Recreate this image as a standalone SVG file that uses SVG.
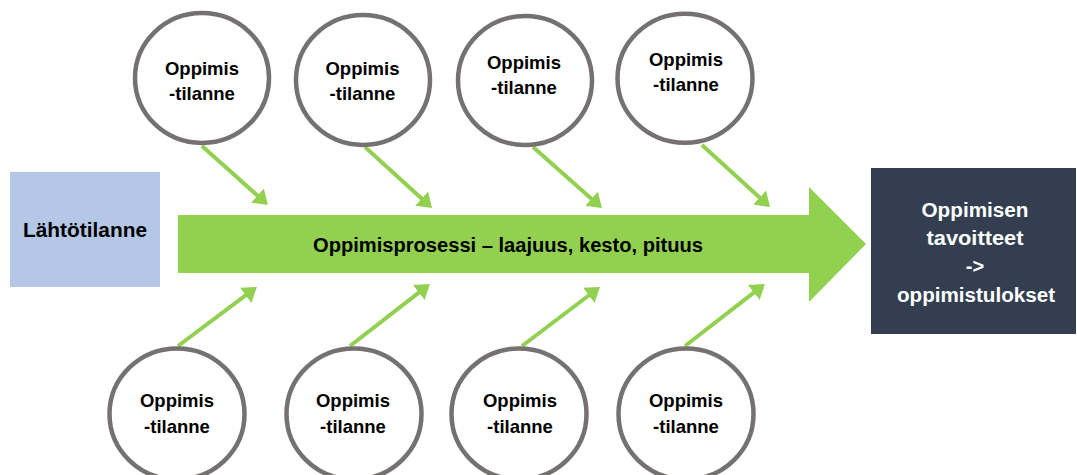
<svg xmlns="http://www.w3.org/2000/svg" width="1077" height="475" viewBox="0 0 1077 475">
  <style>
    .circ { fill: #ffffff; stroke: #767171; stroke-width: 4.5; }
    .ct { font-family: "Liberation Sans", Arial, sans-serif; font-weight: bold; font-size: 18.5px; fill: #000000; text-anchor: middle; }
    .big { font-family: "Liberation Sans", Arial, sans-serif; font-weight: bold; font-size: 20px; text-anchor: middle; }
    .conn { stroke: #92D050; stroke-width: 4; fill: none; marker-end: url(#ah); }
  </style>
  <defs>
    <marker id="ah" viewBox="0 0 14 19" refX="4" refY="9.5" markerWidth="3.5" markerHeight="4.75" markerUnits="strokeWidth" orient="auto">
      <path d="M0,0 L14,9.5 L0,19 Z" fill="#92D050"/>
    </marker>
  </defs>
  <rect x="0" y="0" width="1077" height="475" fill="#ffffff"/>

  <g id="lahtotilanne">
    <rect x="10" y="172" width="150" height="115" fill="#B4C7E7"/>
    <text class="big" x="85" y="237" fill="#000000" textLength="124" lengthAdjust="spacingAndGlyphs">Lähtötilanne</text>
  </g>

  <g id="oppimisprosessi">
    <polygon points="178,215 809,215 809,187 866,244 809,302 809,273 178,273" fill="#92D050"/>
    <text class="big" x="508" y="252" fill="#000000" textLength="390" lengthAdjust="spacingAndGlyphs">Oppimisprosessi – laajuus, kesto, pituus</text>
  </g>

  <g id="tavoitteet">
    <rect x="871" y="168" width="205" height="166" fill="#333F50"/>
    <text class="big" x="975" y="217" fill="#ffffff" textLength="107" lengthAdjust="spacingAndGlyphs">Oppimisen</text>
    <text class="big" x="975" y="245" fill="#ffffff" textLength="97" lengthAdjust="spacingAndGlyphs">tavoitteet</text>
    <text class="big" x="975" y="273" fill="#ffffff">-&gt;</text>
    <text class="big" x="976" y="302" fill="#ffffff" textLength="158" lengthAdjust="spacingAndGlyphs">oppimistulokset</text>
  </g>

  <g id="connectors">
    <line class="conn" x1="202" y1="146" x2="260.5" y2="198.3"/>
    <line class="conn" x1="365" y1="147" x2="424.6" y2="201.3"/>
    <line class="conn" x1="533" y1="147" x2="594.5" y2="201.4"/>
    <line class="conn" x1="702" y1="145" x2="762.6" y2="200.3"/>
    <line class="conn" x1="178" y1="346" x2="248.9" y2="292.9"/>
    <line class="conn" x1="350" y1="346" x2="422" y2="290.1"/>
    <line class="conn" x1="522" y1="346" x2="592" y2="293"/>
    <line class="conn" x1="685" y1="346" x2="757" y2="290.1"/>
  </g>

  <g id="tilanne-top-1">
    <ellipse class="circ" cx="202" cy="78" rx="67" ry="65"/>
    <text class="ct" x="202" y="75">Oppimis</text>
    <text class="ct" x="202" y="100">-tilanne</text>
  </g>
  <g id="tilanne-top-2">
    <ellipse class="circ" cx="363" cy="80" rx="67" ry="65"/>
    <text class="ct" x="362.5" y="75">Oppimis</text>
    <text class="ct" x="362.5" y="100">-tilanne</text>
  </g>
  <g id="tilanne-top-3">
    <ellipse class="circ" cx="525" cy="80.5" rx="67" ry="64.5"/>
    <text class="ct" x="524" y="69">Oppimis</text>
    <text class="ct" x="524" y="94">-tilanne</text>
  </g>
  <g id="tilanne-top-4">
    <ellipse class="circ" cx="685" cy="78.3" rx="67.5" ry="64.5"/>
    <text class="ct" x="686" y="66">Oppimis</text>
    <text class="ct" x="686" y="91">-tilanne</text>
  </g>

  <g id="tilanne-bottom-1">
    <ellipse class="circ" cx="177" cy="414" rx="67.5" ry="65.5"/>
    <text class="ct" x="177" y="407">Oppimis</text>
    <text class="ct" x="177" y="433">-tilanne</text>
  </g>
  <g id="tilanne-bottom-2">
    <ellipse class="circ" cx="354" cy="414" rx="67.5" ry="65.5"/>
    <text class="ct" x="353" y="407">Oppimis</text>
    <text class="ct" x="353" y="433">-tilanne</text>
  </g>
  <g id="tilanne-bottom-3">
    <ellipse class="circ" cx="519" cy="414" rx="67.5" ry="65.5"/>
    <text class="ct" x="520" y="407">Oppimis</text>
    <text class="ct" x="520" y="433">-tilanne</text>
  </g>
  <g id="tilanne-bottom-4">
    <ellipse class="circ" cx="686" cy="414" rx="67.5" ry="65.5"/>
    <text class="ct" x="686" y="407">Oppimis</text>
    <text class="ct" x="686" y="433">-tilanne</text>
  </g>
</svg>
